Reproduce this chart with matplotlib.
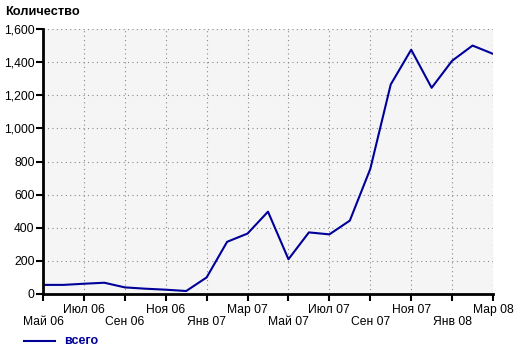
import matplotlib
matplotlib.use("Agg")
import matplotlib.pyplot as plt
from matplotlib.lines import Line2D

plt.rcParams['font.family'] = ['Liberation Sans', 'DejaVu Sans']

# monthly counts, May 2006 .. Mar 2008
months = ["Май 06", "Июн 06", "Июл 06", "Авг 06", "Сен 06", "Окт 06", "Ноя 06", "Дек 06",
          "Янв 07", "Фев 07", "Мар 07", "Апр 07", "Май 07", "Июн 07", "Июл 07", "Авг 07",
          "Сен 07", "Окт 07", "Ноя 07", "Дек 07", "Янв 08", "Фев 08", "Мар 08"]
total = [55, 55, 62, 68, 40, 32, 26, 18, 100, 315, 365, 497, 210, 372, 360, 443,
         755, 1265, 1475, 1245, 1408, 1500, 1450]
y_ticks = [0, 200, 400, 600, 800, 1000, 1200, 1400, 1600]

line_color = "#000099"

fig = plt.figure(figsize=(5.2, 3.53), dpi=100)
ax = fig.add_axes([43 / 520, 59 / 353, 450 / 520, 265 / 353])
ax.set_facecolor("#f5f5f5")

x = list(range(len(months)))
ax.plot(x, total, color=line_color, linewidth=1.5)

ax.set_xlim(0, len(months) - 1)
ax.set_ylim(0, 1600)

# staggered labels: every 2 months, alternating rows
row1 = x[2::4]
row2 = x[0::4]
ax.set_xticks(row1)
ax.set_xticklabels([months[i] for i in row1])
ax.set_xticks(row2, minor=True)
ax.set_xticklabels([months[i] for i in row2], minor=True)
ax.tick_params(axis='x', which='major', length=5, width=1.5, pad=2, labelsize=8.7)
ax.tick_params(axis='x', which='minor', length=5, width=1.5, pad=10.5, labelsize=8.7)

ax.set_yticks(y_ticks)
ax.set_yticklabels([f"{v:,}" for v in y_ticks])
ax.tick_params(axis='y', length=5, width=1.5, pad=1, labelsize=8.7)

ax.grid(which='both', color='#888888', linestyle=(0, (1, 3)), linewidth=0.8)
ax.set_axisbelow(True)

for side in ['top', 'right']:
    ax.spines[side].set_visible(False)
for side in ['left', 'bottom']:
    ax.spines[side].set_linewidth(2)
# dotted right border
ax.axvline(len(months) - 1, color='#888888', linestyle=(0, (1, 3)), linewidth=0.8)

fig.text(5 / 520, 1 - 12 / 353, "Количество", fontsize=9.2, fontweight='bold', va='center')

# legend
fig.add_artist(Line2D([24 / 520, 55 / 520], [1 - 341 / 353] * 2, color=line_color, linewidth=1.5))
fig.text(64 / 520, 1 - 341 / 353, "всего", fontsize=9, fontweight='bold', color=line_color, va='center')

fig.savefig("out.png", dpi=100)
